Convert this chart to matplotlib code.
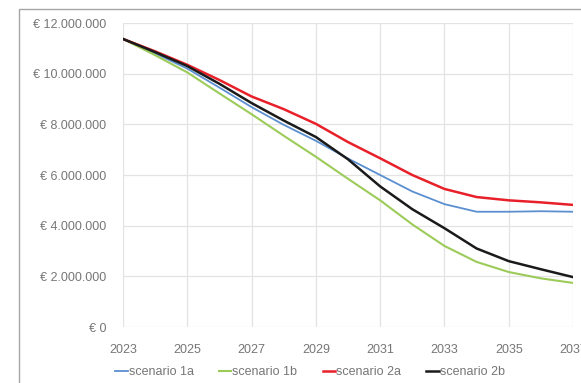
import matplotlib.pyplot as plt
from matplotlib.patches import Rectangle
from matplotlib.ticker import FuncFormatter

plt.rcParams['font.family'] = ['Liberation Sans', 'DejaVu Sans']

years = list(range(2023, 2038))

# remaining value per scenario, in million euro
scenario_1a = [11.37, 10.80, 10.20, 9.45, 8.68, 7.98, 7.35, 6.65, 6.00, 5.35, 4.85, 4.55, 4.55, 4.57, 4.55]
scenario_1b = [11.37, 10.73, 10.05, 9.22, 8.40, 7.55, 6.72, 5.85, 5.00, 4.05, 3.20, 2.57, 2.17, 1.92, 1.74]
scenario_2a = [11.37, 10.88, 10.35, 9.75, 9.10, 8.60, 8.02, 7.30, 6.66, 6.00, 5.45, 5.13, 5.00, 4.92, 4.82]
scenario_2b = [11.37, 10.85, 10.30, 9.60, 8.84, 8.15, 7.50, 6.62, 5.55, 4.65, 3.90, 3.10, 2.60, 2.28, 1.97]

labels = ['scenario 1a', 'scenario 1b', 'scenario 2a', 'scenario 2b']
colors = ['#5B8FD0', '#9CCB5A', '#E8202A', '#1A1A1A']
widths = [1.3, 1.5, 1.8, 1.8]

W, H = 581, 383
fig = plt.figure(figsize=(W / 100, H / 100), dpi=100)

# chart area frame (runs off the right and bottom edges)
fig.patches.append(Rectangle((19 / W, -0.1), 1.2, 1 - 9 / H + 0.1,
                             transform=fig.transFigure, fill=False,
                             edgecolor='#A6A6A6', linewidth=1.0))

ax = fig.add_axes([123 / W, 1 - 327 / H, (573 - 123) / W, (327 - 23) / H])

for vals, lab, col, lw in zip([scenario_1a, scenario_1b, scenario_2a, scenario_2b],
                              labels, colors, widths):
    ax.plot(years, [v * 1e6 for v in vals], color=col, linewidth=lw, label=lab,
            solid_joinstyle='round')

ax.set_xlim(2023, 2037)
ax.set_ylim(0, 12e6)
ax.set_xticks(range(2023, 2038, 2))
ax.set_yticks(range(0, 12000001, 2000000))

def euro(v, pos):
    return '€ ' + format(int(v), ',').replace(',', '.')

ax.yaxis.set_major_formatter(FuncFormatter(euro))
ax.grid(True, color='#E3E3E3', linewidth=0.9)
ax.set_axisbelow(True)
for s in ax.spines.values():
    s.set_visible(False)
ax.tick_params(length=0, labelsize=9, labelcolor='#767676')
ax.tick_params(axis='y', pad=12)
ax.tick_params(axis='x', pad=12)

fig.legend(loc='center', bbox_to_anchor=(310 / W, 1 - 372 / H), ncol=4,
           frameon=False, fontsize=9, labelcolor='#767676',
           handlelength=1.0, handletextpad=0.1, columnspacing=2.0)

fig.savefig('out.png', dpi=100)
